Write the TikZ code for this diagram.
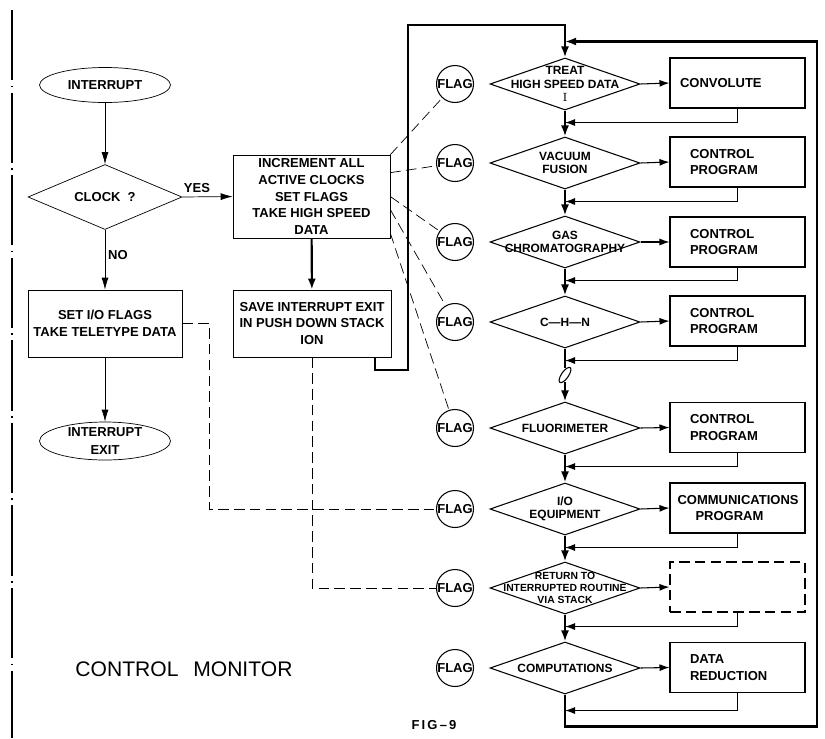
\documentclass[tikz,border=0pt]{standalone}
\usepackage{fontspec}
\setsansfont{Liberation Sans}
\usetikzlibrary{arrows.meta,shapes.geometric,calc}

\begin{document}
\begin{tikzpicture}[x=0.02cm,y=-0.02cm]
\tikzset{
  lettering/.style={font=\sffamily\bfseries\fontsize{7.4}{9.6}\selectfont},
  dlettering/.style={font=\sffamily\bfseries\fontsize{6.8}{7.6}\selectfont,align=center},
  terminal/.style={ellipse,draw,thin,lettering,inner sep=0pt,minimum width=2.62cm,minimum height=0.7cm,align=center},
  test/.style={diamond,draw,thin,inner sep=0pt,minimum width=3.08cm,minimum height=1.3cm},
  process/.style={rectangle,draw,thin,lettering,align=center,inner sep=1pt},
  decision/.style={diamond,draw,semithick,inner sep=0pt,minimum width=3cm,minimum height=1.04cm},
  flagnode/.style={circle,draw,semithick,lettering,minimum size=0.74cm,inner sep=0pt},
  routinebox/.style={rectangle,draw,semithick,lettering,minimum width=2.7cm,minimum height=1cm,inner sep=0pt},
  routine/.style={routinebox,text width=1.9cm,align=left},
  flow/.style={-{Latex[length=2.4mm,width=1.4mm]},thin},
  retflow/.style={-{Latex[length=2mm,width=1.4mm]},semithick},
  mainflow/.style={-{Latex[length=2.2mm,width=1.6mm]},line width=1.2pt},
  mainline/.style={line width=1.2pt},
  signal/.style={thin,dash pattern=on 6pt off 3pt},
  border/.style={line width=0.6pt,dash pattern=on 40pt off 3pt on 1pt off 3pt}
}
\useasboundingbox (0,0) rectangle (825,738);
\draw[border] (12,10) -- (12,738);
\node[terminal] (n_int) at (105,85) {INTERRUPT};
\node[test,label={[lettering]center:CLOCK\ \ ?}] (n_clock) at (105,197) {};
\node[process,minimum width=3.14cm,minimum height=1.66cm] (n_inc) at (311.5,196.5) {INCREMENT ALL\\ACTIVE CLOCKS\\SET FLAGS\\TAKE HIGH SPEED\\DATA};
\node[process,minimum width=3.16cm,minimum height=1.34cm] (n_save) at (312,323.5) {SAVE INTERRUPT EXIT\\IN PUSH DOWN STACK\\ION};
\node[process,minimum width=3.08cm,minimum height=1.34cm] (n_setio) at (105,323.5) {SET I/O FLAGS\\TAKE TELETYPE DATA};
\node[terminal,minimum height=0.76cm,font=\sffamily\bfseries\fontsize{7.4}{10}\selectfont] (n_exit) at (105,441) {INTERRUPT\\EXIT};
\node[lettering] (n_yes) at (197,188) {YES};
\node[lettering] (n_no) at (118,255) {NO};
\node[font=\sffamily\fontsize{12}{14}\selectfont] (n_title) at (184,669) {CONTROL\hspace{0.7em}MONITOR};
\node[lettering] (n_fig) at (434,725) {F\,I\,G\,--\,9};
\node[flagnode] (n_f1) at (455,84) {FLAG};
\node[flagnode] (n_f2) at (455,163) {FLAG};
\node[flagnode] (n_f3) at (455,242) {FLAG};
\node[flagnode] (n_f4) at (455,322) {FLAG};
\node[flagnode] (n_f5) at (455,428) {FLAG};
\node[flagnode] (n_f6) at (455,509) {FLAG};
\node[flagnode] (n_f7) at (455,588) {FLAG};
\node[flagnode] (n_f8) at (455,668) {FLAG};
\node[decision,label={[dlettering]center:TREAT\\HIGH SPEED DATA\\{\rmfamily\mdseries I}}] (n_d1) at (565,84) {};
\node[decision,label={[dlettering]center:VACUUM\\FUSION}] (n_d2) at (565,163) {};
\node[decision,label={[dlettering]center:GAS\\CHROMATOGRAPHY}] (n_d3) at (565,242) {};
\node[decision,label={[dlettering]center:C---H---N}] (n_d4) at (565,322) {};
\node[decision,label={[dlettering]center:FLUORIMETER}] (n_d5) at (565,428) {};
\node[decision,label={[dlettering]center:I/O\\EQUIPMENT}] (n_d6) at (565,509) {};
\node[decision,label={[dlettering,font=\sffamily\bfseries\fontsize{5.9}{7}\selectfont]center:RETURN TO\\INTERRUPTED ROUTINE\\VIA STACK}] (n_d7) at (565,588) {};
\node[decision,label={[dlettering]center:COMPUTATIONS}] (n_d8) at (565,668) {};
\node[routine,text width=2.3cm] (n_b1) at (737.5,83) {CONVOLUTE};
\node[routine] (n_b2) at (737.5,162) {CONTROL\\PROGRAM};
\node[routine] (n_b3) at (737.5,242) {CONTROL\\PROGRAM};
\node[routine] (n_b4) at (737.5,321) {CONTROL\\PROGRAM};
\node[routine] (n_b5) at (737.5,427.5) {CONTROL\\PROGRAM};
\node[routine,text width=2.4cm] (n_b6) at (737.5,508) {COMMUNICATIONS\\\hspace*{0.36cm}PROGRAM};
\node[routinebox,dash pattern=on 6pt off 3pt] (n_b7) at (737.5,587) {};
\node[routine] (n_b8) at (737.5,667.5) {DATA\\REDUCTION};
\coordinate (n_top) at (408,25);
\coordinate (n_entry) at ($(n_d1.north)+(0,-16)$);
\coordinate (n_end) at ($(n_d8.south)+(0,32)$);
\coordinate (n_r1) at ($(n_d1.south)+(0,12)$);
\coordinate (n_r2) at ($(n_d2.south)+(0,12)$);
\coordinate (n_r3) at ($(n_d3.south)+(0,12)$);
\coordinate (n_r4) at ($(n_d4.south)+(0,12)$);
\coordinate (n_r5) at ($(n_d5.south)+(0,12)$);
\coordinate (n_r6) at ($(n_d6.south)+(0,12)$);
\coordinate (n_r7) at ($(n_d7.south)+(0,12)$);
\coordinate (n_r8) at ($(n_d8.south)+(0,16)$);
\coordinate (n_w1) at ($(n_d4.south)+(0,19)$);
\coordinate (n_w2) at ($(n_d5.north)+(0,-19)$);
\coordinate (n_wm) at ($(n_w1)!0.5!(n_w2)$);
\draw[flow] (n_int) -- (n_clock);
\draw[flow] (n_clock.east) -- (n_inc.west);
\draw[flow] (n_clock) -- (n_setio);
\draw[flow] (n_setio) -- (n_exit);
\draw[mainflow] (n_inc) -- (n_save);
\draw[mainflow] ([xshift=-0.32cm]n_save.south east) -- ++(0,13) -| (n_top) -| (n_d1.north);
\draw[signal] (n_inc.north east) -- (n_f1);
\draw[signal] ([yshift=-0.36cm]n_inc.north east) -- (n_f2);
\draw[signal] (n_inc.east) -- (n_f3);
\draw[signal] ([yshift=-1.1cm]n_inc.north east) -- (n_f4);
\draw[signal] ([yshift=0.1cm]n_inc.south east) -- (n_f5);
\draw[signal] (n_setio.east) -- ++(27,0) |- (n_f6);
\draw[signal] (n_save.south) |- (n_f7);
\draw[retflow] (n_d1.east) -- (n_b1.west);
\draw[retflow] (n_d2.east) -- (n_b2.west);
\draw[retflow] (n_d3.east) -- (n_b3.west);
\draw[retflow] (n_d4.east) -- (n_b4.west);
\draw[retflow] (n_d5.east) -- (n_b5.west);
\draw[retflow] (n_d6.east) -- (n_b6.west);
\draw[retflow] (n_d7.east) -- (n_b7.west);
\draw[retflow] (n_d8.east) -- (n_b8.west);
\draw[retflow] (n_b1.south) |- (n_r1);
\draw[retflow] (n_b2.south) |- (n_r2);
\draw[retflow] (n_b3.south) |- (n_r3);
\draw[retflow] (n_b4.south) |- (n_r4);
\draw[retflow] (n_b5.south) |- (n_r5);
\draw[retflow] (n_b6.south) |- (n_r6);
\draw[retflow] (n_b7.south) |- (n_r7);
\draw[retflow] (n_b8.south) |- (n_r8);
\draw[mainflow] (n_d1) -- (n_d2);
\draw[mainflow] (n_d2) -- (n_d3);
\draw[mainflow] (n_d3) -- (n_d4);
\draw[mainline] (n_d4) -- (n_w1);
\draw[semithick,rotate around={-35:(n_wm)}] (n_wm) ellipse [x radius=3.5,y radius=9];
\draw[mainflow] (n_w2) -- (n_d5);
\draw[mainflow] (n_d5) -- (n_d6);
\draw[mainflow] (n_d6) -- (n_d7);
\draw[mainflow] (n_d7) -- (n_d8);
\draw[mainflow] (n_d8) -- (n_end) -| ([xshift=5.04cm]n_entry) -- (n_entry);
\end{tikzpicture}
\end{document}
